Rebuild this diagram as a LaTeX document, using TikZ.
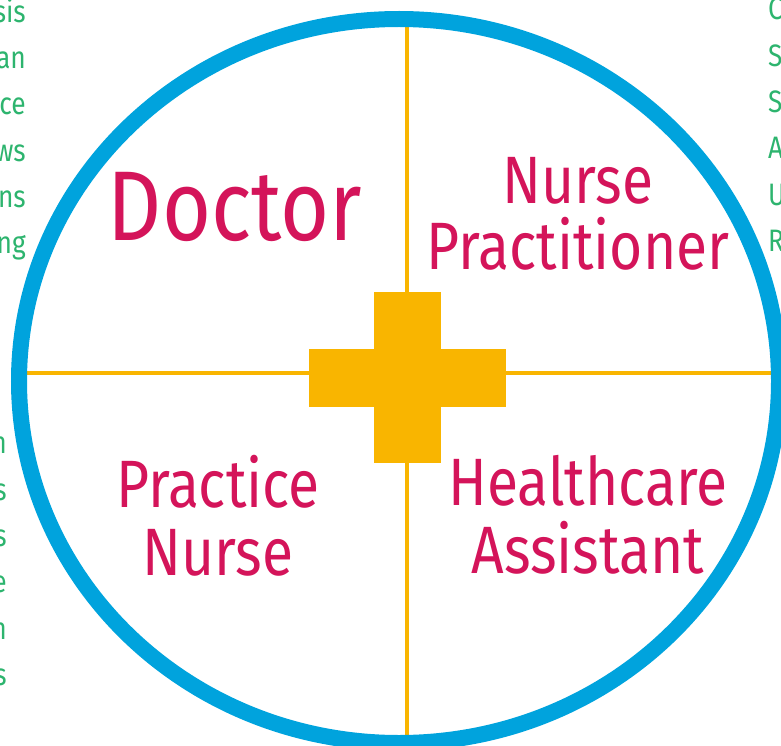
\documentclass[tikz,border=0pt]{standalone}
\usepackage{fontspec}
\usepackage{xcolor}
\usetikzlibrary{positioning}
\newfontfamily\rolefont[FakeStretch=0.85]{Fira Sans}
\newfontfamily\sidefont[FakeStretch=0.85]{Fira Sans}
\definecolor{ringblue}{HTML}{00A3DD}
\definecolor{crossgold}{HTML}{F9B500}
\definecolor{rolepink}{HTML}{D4145A}
\definecolor{sidegreen}{HTML}{2DB46E}

\begin{document}
\begin{tikzpicture}[
  x=1pt, y=-1pt,
  role/.style={text=rolepink, align=center, inner sep=0pt, anchor=base,
               font=\rolefont\fontsize{#1}{64}\selectfont},
  role/.default=67,
  side/.style={text=sidegreen, inner sep=0pt, anchor=base #1,
               font=\sidefont\fontsize{31}{46.3}\selectfont},
  bar/.style={fill=crossgold, inner sep=0pt},
  axis/.style={crossgold, line width=3.5pt},
]
  \useasboundingbox (0,0) rectangle (781,746);

  \coordinate (top)    at (407,20);
  \coordinate (bottom) at (407,737);
  \coordinate (left)   at (22,373);
  \coordinate (right)  at (775,373);
  \draw[axis] (top) -- (bottom);
  \draw[axis] (left) -- (right);

  \node[bar, minimum width=197pt, minimum height=58pt] (hbar) at (407,378) {};
  \node[bar, minimum width=67pt, minimum height=171pt] (vbar) at (407,377.5) {};

  \draw[ringblue, line width=16pt] (399,381) ellipse [x radius=380, y radius=362];

  \node[role=99] (doctor) at (235,240) {Doctor};
  \node[role, align=center, anchor=north] (np) at (578,157)
    {Nurse\\[2pt]Practitioner};
  \node[role, anchor=north] (pn) at (218,455) {Practice\\[4pt]Nurse};
  \node[role, anchor=north] (hca) at (588,455) {Healthcare\\[4pt]Assistant};

  \node[side=east, align=right, anchor=north east] (lefttop) at (26,-2)
    {sis\\an\\ce\\ws\\ns\\ng};
  \node[side=east, align=right, anchor=north east] (leftlow) at (7,437)
    {n\\s\\s\\e\\n\\s};
  \node[side=west, align=left, anchor=north west] (righttop) at (768,-2)
    {C\\S\\S\\A\\U\\R};
\end{tikzpicture}
\end{document}
